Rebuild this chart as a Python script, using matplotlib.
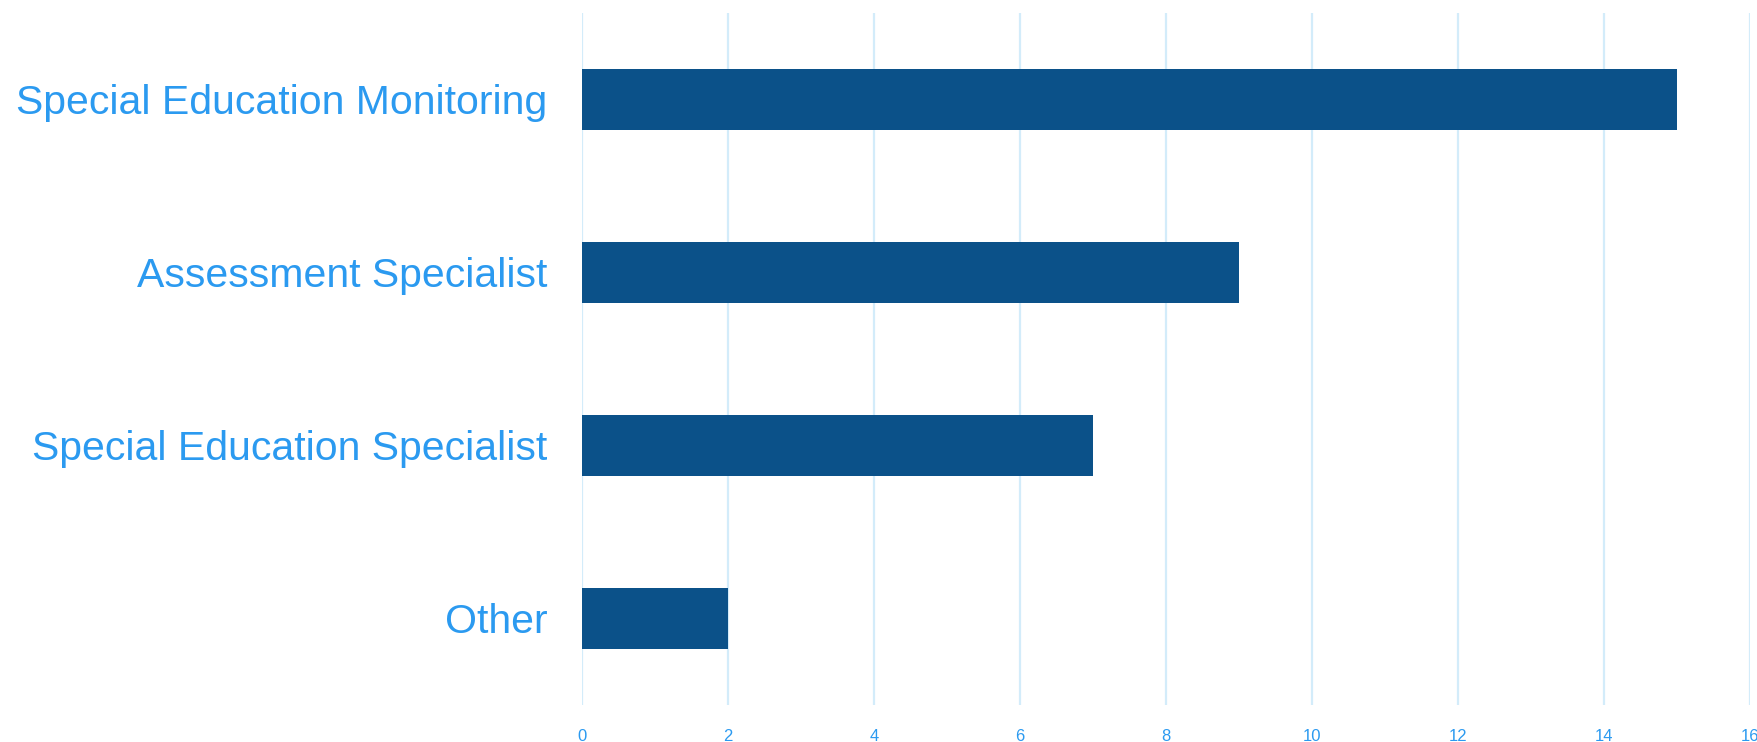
import numpy as np
import matplotlib.pyplot as plt

categorias = ["Special Education Monitoring", "Assessment Specialist",
              "Special Education Specialist", "Other"]
valores = [15, 9, 7, 2]
ticks_x = [0, 2, 4, 6, 8, 10, 12, 14, 16]

azul_texto = "#2b9af0"
azul_barra = "#0b5189"
color_grid = "#d3ecfa"

fig = plt.figure(figsize=(17.57, 7.42), dpi=100)
ax = fig.add_axes([0.3312, 0.05, 0.665, 0.9325])

y = np.arange(len(categorias))
ax.barh(y, valores, height=0.35, color=azul_barra, zorder=3)

ax.set_xlim(0, 16)
ax.set_ylim(3.5, -0.5)
ax.set_xticks(ticks_x)
ax.set_yticks(y)
ax.set_yticklabels(categorias, fontsize=29.5, color=azul_texto,
                   family="Liberation Sans")
ax.tick_params(axis="y", length=0, pad=25)
ax.tick_params(axis="x", length=0, pad=17, labelsize=12, labelcolor=azul_texto)
for t in ax.get_xticklabels():
    t.set_family("Liberation Sans")

ax.grid(axis="x", color=color_grid, linewidth=1.6, zorder=0)
for s in ax.spines.values():
    s.set_visible(False)

fig.savefig("out.png", dpi=100)
